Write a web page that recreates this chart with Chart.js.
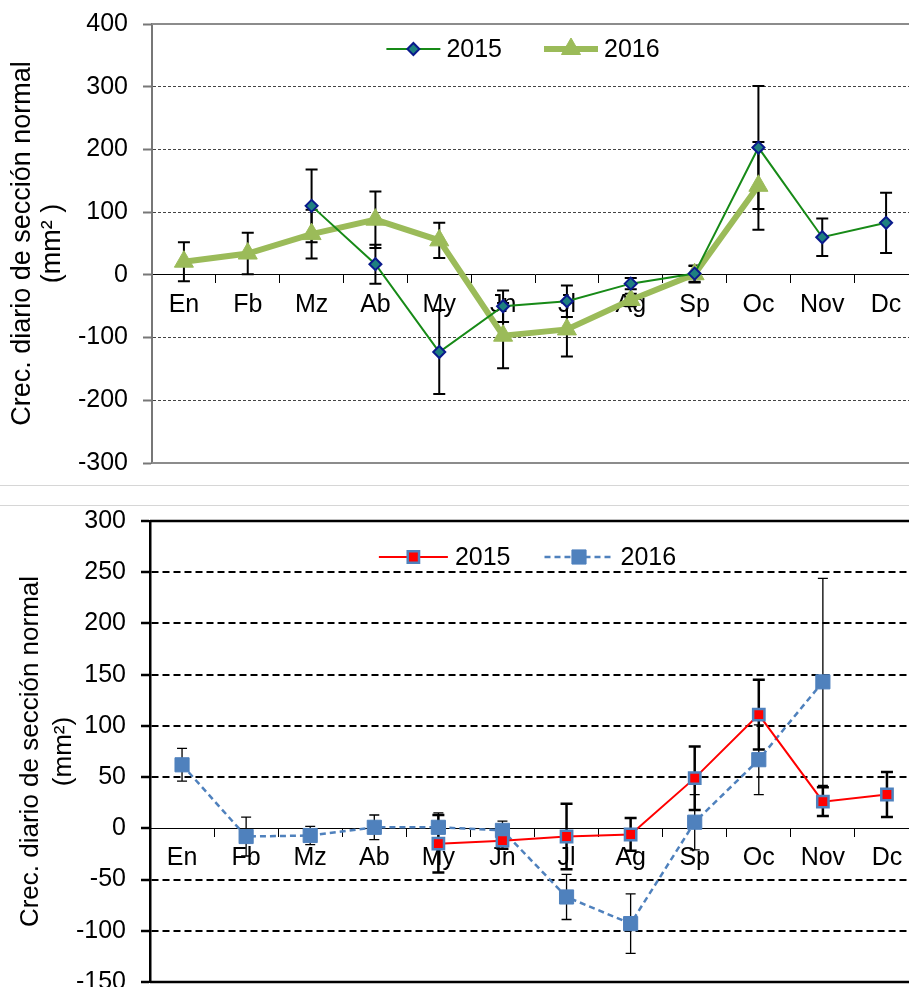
<!DOCTYPE html>
<html>
<head>
<meta charset="utf-8">
<script src="https://cdn.jsdelivr.net/npm/chart.js@4.4.1/dist/chart.umd.min.js"></script>
<style>
html, body { margin: 0; padding: 0; background: #fff; overflow: hidden; }
canvas { position: absolute; left: 0; }
#topChart { top: 0; }
#lowChart { top: 507px; }
.sep { position: absolute; left: 0; width: 909px; height: 1px; background: #d6d6d6; }
</style>
</head>
<body>
<div class="sep" style="top:485px"></div>
<div class="sep" style="top:505px"></div>
<canvas id="topChart" width="930" height="485"></canvas>
<canvas id="lowChart" width="930" height="490"></canvas>
<script>
const months = ['En', 'Fb', 'Mz', 'Ab', 'My', 'Jn', 'Jl', 'Ag', 'Sp', 'Oc', 'Nov', 'Dc'];

// upper panel
const top2015 = [null, null, 110, 17, -123, -50, -42, -14, 2, 203, 60, 83];
const top2015Err = [null, null, 58, 31, 67, 25, 25, 9, 13, 98, 30, 48];
const top2016 = [21, 34, 65, 88, 55, -97, -87, -40, 1, 142, null, null];
const top2016Err = [31, 33, 39, 45, 28, 52, 43, 10, 13, 70, null, null];
const topTicks = [-300, -200, -100, 0, 100, 200, 300, 400];

// lower panel
const low2015 = [null, null, null, null, -15, -12, -8, -6, 49, 111, 26, 33];
const low2015Err = [null, null, null, null, 28, 8, 32, 16, 31, 34, 14, 22];
const low2016 = [62, -8, -7, 1, 1, -2, -67, -93, 6, 67, 143, null];
const low2016Err = [16, 19, 9, 12, 14, 9, 22, 29, 27, 34, 101, null];
const lowTicks = [-150, -100, -50, 0, 50, 100, 150, 200, 250, 300];

const FONT = "'Liberation Sans', Arial, sans-serif";

// vertical error bars, drawn under the markers
const errorBars = {
  id: 'errorBars',
  beforeDatasetsDraw(chart) {
    const ctx = chart.ctx;
    const y = chart.scales.y;
    chart.data.datasets.forEach((ds, i) => {
      if (!ds.errors) return;
      const meta = chart.getDatasetMeta(i);
      ctx.save();
      ctx.strokeStyle = '#000';
      ctx.lineWidth = ds.errorWidth;
      meta.data.forEach((pt, j) => {
        const v = ds.data[j], e = ds.errors[j];
        if (v == null || e == null) return;
        const hi = y.getPixelForValue(v + e), lo = y.getPixelForValue(v - e);
        const x = pt.x, c = ds.errorCap;
        ctx.beginPath();
        ctx.moveTo(x, hi); ctx.lineTo(x, lo);
        ctx.moveTo(x - c, hi); ctx.lineTo(x + c, hi);
        ctx.moveTo(x - c, lo); ctx.lineTo(x + c, lo);
        ctx.stroke();
      });
      ctx.restore();
    });
  }
};

// top and bottom edges of the plot area
const frame = {
  id: 'frame',
  beforeDatasetsDraw(chart, args, opts) {
    const {ctx, chartArea: a} = chart;
    ctx.save();
    ctx.strokeStyle = opts.color;
    ctx.lineWidth = opts.width;
    ctx.beginPath();
    ctx.moveTo(a.left, a.top); ctx.lineTo(a.right, a.top);
    ctx.moveTo(a.left, a.bottom); ctx.lineTo(a.right, a.bottom);
    ctx.stroke();
    ctx.restore();
  }
};

// legend with line + marker samples, inside the plot
const lineLegend = {
  id: 'lineLegend',
  afterDraw(chart, args, opts) {
    const {ctx, chartArea: a} = chart;
    ctx.save();
    ctx.font = '25px ' + FONT;
    const items = chart.data.datasets.map(ds => ({ds, w: opts.sample + opts.gap + ctx.measureText(ds.label).width}));
    const total = items.reduce((s, it) => s + it.w, 0) + opts.spacing * (items.length - 1);
    let x = (a.left + a.right) / 2 + opts.shift - total / 2;
    const y = a.top + opts.offsetY;
    items.forEach(({ds, w}) => {
      ctx.strokeStyle = ds.borderColor;
      ctx.lineWidth = ds.borderWidth;
      ctx.setLineDash(ds.borderDash || []);
      ctx.beginPath(); ctx.moveTo(x, y); ctx.lineTo(x + opts.sample, y); ctx.stroke();
      ctx.setLineDash([]);
      ctx.fillStyle = ds.pointBackgroundColor;
      ctx.strokeStyle = ds.pointBorderColor;
      ctx.lineWidth = ds.pointBorderWidth;
      Chart.helpers.drawPoint(ctx, {pointStyle: ds.pointStyle, radius: ds.pointRadius, borderWidth: ds.pointBorderWidth, rotation: 0}, x + opts.sample / 2, y);
      ctx.fillStyle = '#000';
      ctx.textBaseline = 'middle';
      ctx.textAlign = 'left';
      ctx.fillText(ds.label, x + opts.sample + opts.gap, y + 1);
      x += w + opts.spacing;
    });
    ctx.restore();
  }
};

function xAxis() {
  return {
    type: 'category',
    position: {y: 0},
    offset: true,
    grid: {offset: true, drawOnChartArea: false, tickLength: 8, tickColor: '#000', tickWidth: 1},
    border: {display: true, color: '#000', width: 1},
    ticks: {color: '#000', font: {size: 25, family: FONT}, padding: 7, maxRotation: 0, autoSkip: false}
  };
}

function yAxis(ticks, width, gridColor, gridWidth, dash, axisColor, axisWidth, unit, titleFont) {
  const lo = ticks[0], hi = ticks[ticks.length - 1];
  return {
    min: lo,
    max: hi,
    afterBuildTicks: s => { s.ticks = ticks.map(v => ({value: v})); },
    afterFit: s => { s.width = width; s.paddingTop = 0; s.paddingBottom = 0; },
    grid: {
      color: c => (c.tick && [lo, hi, 0].includes(c.tick.value)) ? 'rgba(0,0,0,0)' : gridColor,
      lineWidth: gridWidth,
      tickLength: 9,
      tickColor: axisColor,
      tickWidth: axisWidth
    },
    border: {display: true, color: axisColor, width: axisWidth, dash: dash},
    ticks: {color: '#000', font: {size: 25, family: FONT}, padding: 15},
    title: {
      display: true,
      text: ['Crec. diario de sección normal', unit],
      color: '#000',
      font: {size: titleFont.size, family: FONT, lineHeight: titleFont.lineHeight},
      padding: {top: titleFont.pad, bottom: 0}
    }
  };
}

new Chart(document.getElementById('topChart'), {
  type: 'line',
  data: {
    labels: months,
    datasets: [{
      label: '2015',
      data: top2015,
      errors: top2015Err,
      errorWidth: 2,
      errorCap: 6,
      borderColor: '#178a17',
      borderWidth: 2,
      pointStyle: 'rectRot',
      pointRadius: 6,
      pointBackgroundColor: '#1e8080',
      pointBorderColor: '#0a1a8c',
      pointBorderWidth: 2,
      tension: 0
    }, {
      label: '2016',
      data: top2016,
      errors: top2016Err,
      errorWidth: 2,
      errorCap: 6,
      borderColor: '#9bbb59',
      borderWidth: 6,
      pointStyle: 'triangle',
      pointRadius: 11,
      pointBackgroundColor: '#9bbb59',
      pointBorderColor: '#9bbb59',
      pointBorderWidth: 1,
      tension: 0
    }]
  },
  options: {
    responsive: false,
    animation: false,
    devicePixelRatio: 1,
    layout: {padding: {left: 0, top: 24, right: 11, bottom: 22}},
    scales: {
      x: xAxis(),
      y: yAxis(topTicks, 152, '#444', 1, [3, 2], '#777', 2, '(mm² )', {size: 27, lineHeight: 1.1, pad: 8})
    },
    plugins: {
      legend: {display: false},
      tooltip: {enabled: false},
      frame: {color: '#8c8c8c', width: 2},
      lineLegend: {sample: 54, gap: 6, spacing: 42, shift: -12, offsetY: 25}
    }
  },
  plugins: [frame, errorBars, lineLegend]
});

new Chart(document.getElementById('lowChart'), {
  type: 'line',
  data: {
    labels: months,
    datasets: [{
      label: '2015',
      data: low2015,
      errors: low2015Err,
      errorWidth: 2.5,
      errorCap: 6,
      borderColor: '#ff0000',
      borderWidth: 2,
      pointStyle: 'rect',
      pointRadius: 8,
      pointBackgroundColor: '#ff0000',
      pointBorderColor: '#4f81bd',
      pointBorderWidth: 2.5,
      tension: 0
    }, {
      label: '2016',
      data: low2016,
      errors: low2016Err,
      errorWidth: 1.3,
      errorCap: 5,
      borderColor: '#4f81bd',
      borderWidth: 2.5,
      borderDash: [6, 4],
      pointStyle: 'rect',
      pointRadius: 10,
      pointBackgroundColor: '#4f81bd',
      pointBorderColor: '#4f81bd',
      pointBorderWidth: 1,
      tension: 0
    }]
  },
  options: {
    responsive: false,
    animation: false,
    devicePixelRatio: 1,
    layout: {padding: {left: 0, top: 14, right: 9, bottom: 15}},
    scales: {
      x: xAxis(),
      y: yAxis(lowTicks, 150, '#000', 2, [7, 4], '#000', 2.5, '(mm²)', {size: 26, lineHeight: 1.25, pad: 15})
    },
    plugins: {
      legend: {display: false},
      tooltip: {enabled: false},
      frame: {color: '#000', width: 2.5},
      lineLegend: {sample: 69, gap: 7, spacing: 34, shift: -7, offsetY: 36}
    }
  },
  plugins: [frame, errorBars, lineLegend]
});
</script>
</body>
</html>
